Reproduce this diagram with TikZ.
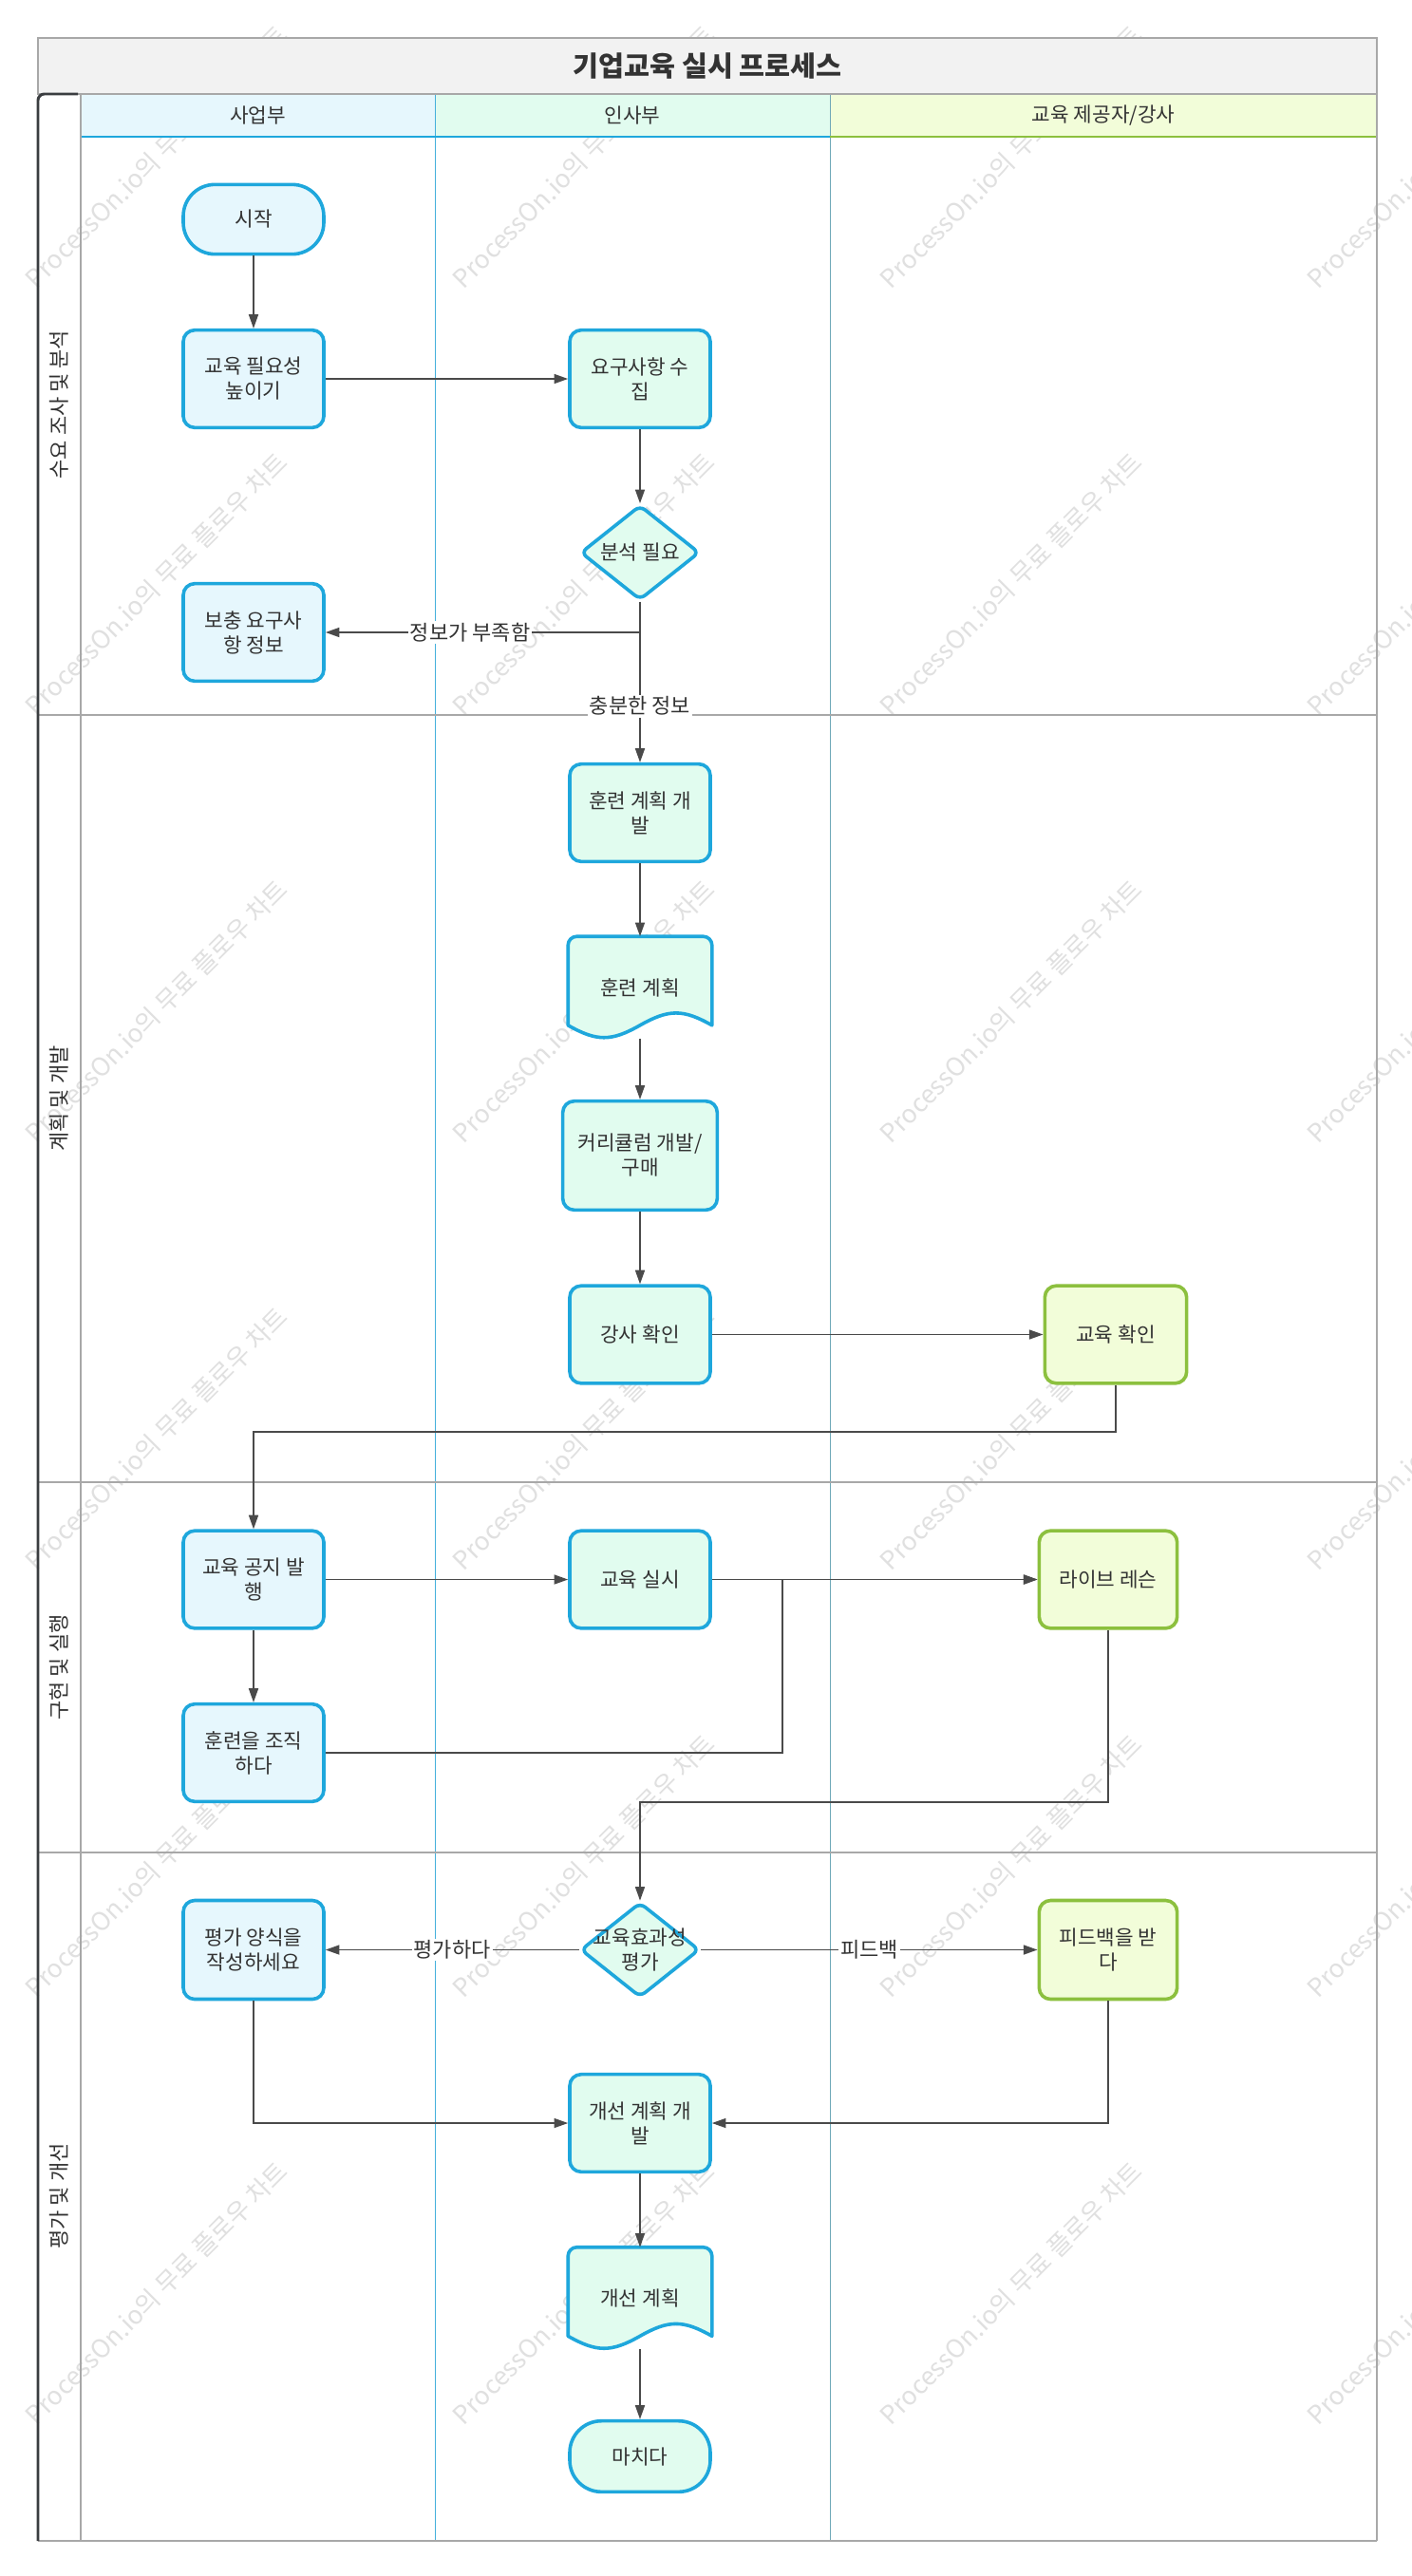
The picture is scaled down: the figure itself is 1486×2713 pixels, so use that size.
\documentclass[tikz,border=0pt]{standalone}
\usepackage{fontspec}
\setmainfont{Noto Sans CJK KR}
\usetikzlibrary{arrows.meta,shapes.geometric,calc}
\definecolor{txt}{HTML}{333333}
\definecolor{bluefill}{HTML}{E6F7FD}
\definecolor{bluestroke}{HTML}{1EA7DC}
\definecolor{mintfill}{HTML}{E1FCEF}
\definecolor{yelfill}{HTML}{F2FDD9}
\definecolor{greenstroke}{HTML}{8CC03E}
\definecolor{edgec}{HTML}{4A4A4A}
\definecolor{gridc}{HTML}{A8A8A8}
\definecolor{titlefill}{HTML}{F2F2F2}
\definecolor{collineA}{HTML}{45B0DC}
\definecolor{collineB}{HTML}{6FA8B8}
\definecolor{wmc}{HTML}{E0E0E0}
\definecolor{darkc}{HTML}{3A3D40}
\pgfdeclarelayer{wm}\pgfdeclarelayer{bg}\pgfsetlayers{wm,bg,main}
\tikzset{
  base/.style={font=\fontsize{16}{19.5}\selectfont, text=txt, align=center, line width=2.7pt, inner sep=0pt},
  boxa/.style={base, rectangle, rounded corners=9pt, draw=bluestroke, fill=bluefill, minimum width=111pt, minimum height=77pt},
  boxb/.style={boxa, fill=mintfill},
  boxc/.style={boxa, draw=greenstroke, fill=yelfill},
  terma/.style={boxa, rounded corners=25pt, minimum height=55pt},
  termb/.style={terma, fill=mintfill, minimum height=56pt},
  dia/.style={base, diamond, rounded corners=5pt, draw=bluestroke, fill=mintfill, minimum width=94pt, minimum height=75pt},
  docn/.style={base, rectangle, minimum width=111pt, minimum height=78pt},
  docshape/.style={line width=2.7pt, draw=bluestroke, fill=mintfill, line join=round},
  txtn/.style={base},
  flow/.style={draw=edgec, line width=1.2pt, -{Triangle[length=11pt,width=7.5pt]}},
  lbl/.style={font=\fontsize{16.5}{20}\selectfont, text=txt, fill=white, inner sep=1.5pt},
  hdr/.style={font=\fontsize{16}{20}\selectfont, text=txt},
  lanelbl/.style={font=\fontsize{16.5}{20}\selectfont, text=txt, rotate=90},
  wmark/.style={font=\fontsize{20}{24}\selectfont, text=wmc, rotate=45},
  gridl/.style={draw=gridc, line width=1.2pt},
}
\newcommand\docpath[1]{%
  \path[docshape] let \p1=(#1.north west), \p2=(#1.south east), \n1={\x2-\x1}, \n2={\y1-\y2} in
   (\x1,{\y2+0.13*\n2}) -- (\x1,{\y1-7pt}) arc[start angle=180,end angle=90,radius=7pt]
   -- ({\x2-7pt},\y1) arc[start angle=90,end angle=0,radius=7pt]
   -- (\x2,{\y2+0.13*\n2})
   .. controls ({\x2-0.2*\n1},{\y2+0.29*\n2}) and ({\x2-0.3*\n1},{\y2+0.29*\n2}) .. ({\x1+0.5*\n1},{\y2+0.13*\n2})
   .. controls ({\x1+0.3*\n1},{\y2-0.03*\n2}) and ({\x1+0.2*\n1},{\y2-0.03*\n2}) .. (\x1,{\y2+0.13*\n2}) -- cycle;}
\begin{document}
\begin{tikzpicture}[x=0.75pt,y=-0.75pt]
\clip (0,0) rectangle (1486,2713);
\begin{pgfonlayer}{wm}
\fill[white] (0,0) rectangle (1486,2713);
\foreach \i in {0,...,3}{\foreach \j in {0,...,5}{
  \node[wmark] (wm\i\j) at ({165+450*\i},{165+450*\j}) {ProcessOn.io의 무료 플로우 차트};
}}
\end{pgfonlayer}
% title
\path[gridl, fill=titlefill] (40,40) rectangle (1450,99);
\node[font=\bfseries\fontsize{22}{26}\selectfont, text=txt] (title) at (745,69.5) {기업교육 실시 프로세스};
% headers
\fill[bluefill] (85,99) rectangle (458,144);
\fill[mintfill] (458,99) rectangle (874,144);
\fill[yelfill] (874,99) rectangle (1450,144);
\draw[collineA, line width=0.7pt] (458,99) -- (458,2676);
\draw[collineB, line width=0.7pt] (874,99) -- (874,2676);
\draw[bluestroke, line width=1.5pt] (85,144) -- (874,144);
\draw[greenstroke, line width=1.5pt] (874,144) -- (1450,144);
\draw[gridl] (85,99) -- (1450,99);
\draw[gridl] (1450,99) -- (1450,2676);
\draw[gridl] (85,99) -- (85,2676);
\draw[gridl] (40,753) -- (1450,753);
\draw[gridl] (40,1561) -- (1450,1561);
\draw[gridl] (40,1951) -- (1450,1951);
\draw[gridl] (40,2676) -- (1450,2676);
\draw[darkc, line width=2.2pt, rounded corners=5pt] (40,2676) -- (40,99) -- (82,99);
\node[hdr] (h1) at (271.5,121.5) {사업부};
\node[hdr] (h2) at (666,121.5) {인사부};
\node[hdr] (h3) at (1162,121.5) {교육 제공자/강사};
\node[lanelbl] (r1) at (62,426) {수요 조사 및 분석};
\node[lanelbl] (r2) at (62,1157) {계획 및 개발};
\node[lanelbl] (r3) at (62,1756) {구현 및 실행};
\node[lanelbl] (r4) at (62,2313) {평가 및 개선};
% nodes
\node[terma] (start) at (267,231) {시작};
\node[boxa] (need) at (267,399) {교육 필요성\\높이기};
\node[boxb] (req) at (674,399) {요구사항 수\\집};
\node[dia] (ana) at (674,582) {};
\node[txtn] (anat) at (ana.center) {분석 필요};
\node[boxa] (supp) at (267,666) {보충 요구사\\항 정보};
\node[boxb] (tpd) at (674,856) {훈련 계획 개\\발};
\node[docn] (tp) at (674,1040) {훈련 계획};
\node[boxb, minimum width=122pt, minimum height=86pt] (cur) at (674,1217) {커리큘럼 개발/\\구매};
\node[boxb] (ins) at (674,1405.5) {강사 확인};
\node[boxc, minimum width=112pt] (conf) at (1175,1405.5) {교육 확인};
\node[boxa] (notice) at (267,1663.5) {교육 공지 발\\행};
\node[boxb] (exec) at (674,1663.5) {교육 실시};
\node[boxc, minimum width=109pt] (live) at (1167,1663.5) {라이브 레슨};
\node[boxa] (org) at (267,1846) {훈련을 조직\\하다};
\node[dia] (eval) at (674,2053.5) {};
\node[txtn] (evalt) at (eval.center) {교육효과성\\평가};
\node[boxa, minimum height=78pt] (form) at (267,2053.5) {평가 양식을\\작성하세요};
\node[boxc, minimum width=109pt, minimum height=78pt] (fb) at (1167,2053.5) {피드백을 받\\다};
\node[boxb] (imp) at (674,2236) {개선 계획 개\\발};
\node[docn] (impd) at (674,2420.5) {개선 계획};
\node[termb] (fin) at (674,2587) {마치다};
\begin{pgfonlayer}{bg}
\docpath{tp}
\docpath{impd}
\end{pgfonlayer}
% edges
\coordinate (j1) at (0,1508);
\coordinate (j2) at (824,1663.5);
\coordinate (j3) at (0,1898);
\draw[flow] (start.south) -- (need.north);
\draw[flow] (need.east) -- (req.west);
\draw[flow] (req.south) -- (ana.north);
\draw[flow] (ana.south) |- node[lbl, pos=0.77] (lb1) {정보가 부족함} (supp.east);
\draw[flow] (ana.south) -- node[lbl, pos=0.65] (lb2) {충분한 정보} (tpd.north);
\draw[flow] (tpd.south) -- (tp.north);
\draw[flow] (tp.south) -- (cur.north);
\draw[flow] (cur.south) -- (ins.north);
\draw[flow] (ins.east) -- (conf.west);
\draw[flow] (conf.south) -- (conf.south |- j1) -| (notice.north);
\draw[flow] (notice.east) -- (exec.west);
\draw[flow] (exec.east) -- (live.west);
\draw[flow] (notice.south) -- (org.north);
\draw[flow] (org.east) -| (j2) -- (live.west);
\draw[flow] (live.south) -- (live.south |- j3) -| (eval.north);
\draw[flow] (eval.west) -- node[lbl] (lb3) {평가하다} (form.east);
\draw[flow] (eval.east) -- node[lbl] (lb4) {피드백} (fb.west);
\draw[flow] (form.south) |- (imp.west);
\draw[flow] (fb.south) |- (imp.east);
\draw[flow] (imp.south) -- (impd.north);
\draw[flow] (impd.south) -- (fin.north);
\end{tikzpicture}
\end{document}
